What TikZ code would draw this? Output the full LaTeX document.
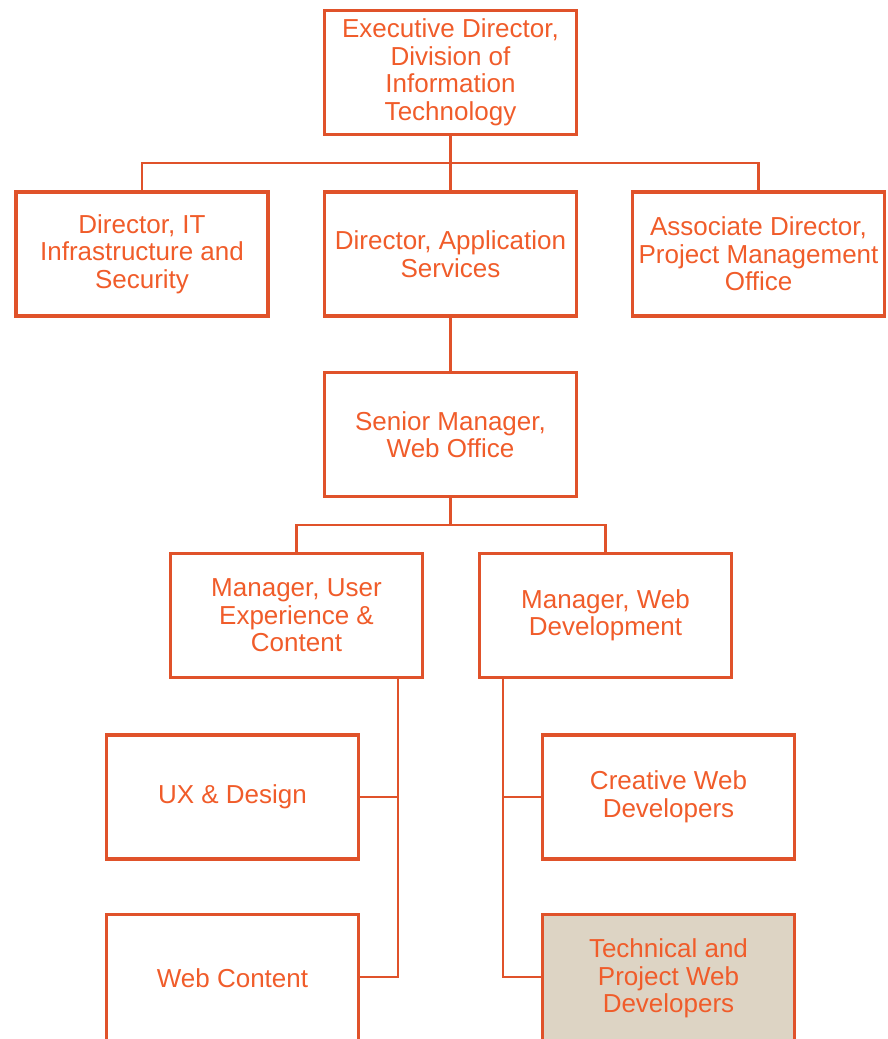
\documentclass[tikz,border=0pt]{standalone}
\usepackage{fontspec}
\setmainfont{Liberation Sans}
\definecolor{borderc}{RGB}{224,82,42}
\definecolor{textc}{RGB}{240,92,42}
\definecolor{fillc}{RGB}{221,212,196}
\begin{document}
\begin{tikzpicture}[x=1pt,y=-1pt,
  box/.style={draw=borderc,line width=3.5pt,minimum width=252pt,minimum height=124pt,
    text=textc,align=center,inner sep=0pt,font=\fontsize{26}{27.5}\selectfont},
  lowbox/.style={box,minimum height=128pt},
  conn/.style={draw=borderc,line width=2.5pt}]
\useasboundingbox (0,0) rectangle (887,1039);
\clip (0,0) rectangle (887,1039);
\node[box] (exec) at (450.5,72.5) {Executive Director,\\Division of\\Information\\Technology};
\node[box] (dit) at (142,254) {Director, IT\\Infrastructure and\\Security};
\node[box] (app) at (450.5,254) {Director, Application\\Services};
\node[box] (assoc) at (758.5,254) {Associate Director,\\Project Management\\Office};
\node[box] (senior) at (450.5,434.5) {Senior Manager,\\Web Office};
\node[box] (mux) at (296.5,615.5) {Manager, User\\Experience \&\\Content};
\node[box] (mwd) at (605.5,615.5) {Manager, Web\\Development};
\node[box] (uxd) at (232.5,797) {UX \& Design};
\node[box] (cwd) at (668.5,797) {Creative Web\\Developers};
\node[lowbox] (wc) at (232.5,978.5) {Web Content};
\node[lowbox,fill=fillc] (tpw) at (668.5,978.5) {Technical and\\Project Web\\Developers};
\coordinate (bus1) at (450.5,163);
\coordinate (bus2) at (450.5,525);
\coordinate (lx) at (398,0);
\coordinate (rx) at (503,0);
\coordinate (wcj) at (398,977);
\coordinate (tpj) at (503,977);
\draw[conn] (exec.south) -- (app.north);
\draw[conn] (dit.north) |- (bus1) -| (assoc.north);
\draw[conn] (app.south) -- (senior.north);
\draw[conn] (senior.south) -- (bus2);
\draw[conn] (mux.north) |- (bus2) -| (mwd.north);
\draw[conn] (mux.south -| lx) -- (wcj) -- (wcj -| wc.east);
\draw[conn] (uxd.east) -- (uxd.east -| lx);
\draw[conn] (mwd.south -| rx) -- (tpj) -- (tpj -| tpw.west);
\draw[conn] (cwd.west) -- (cwd.west -| rx);
\end{tikzpicture}
\end{document}
